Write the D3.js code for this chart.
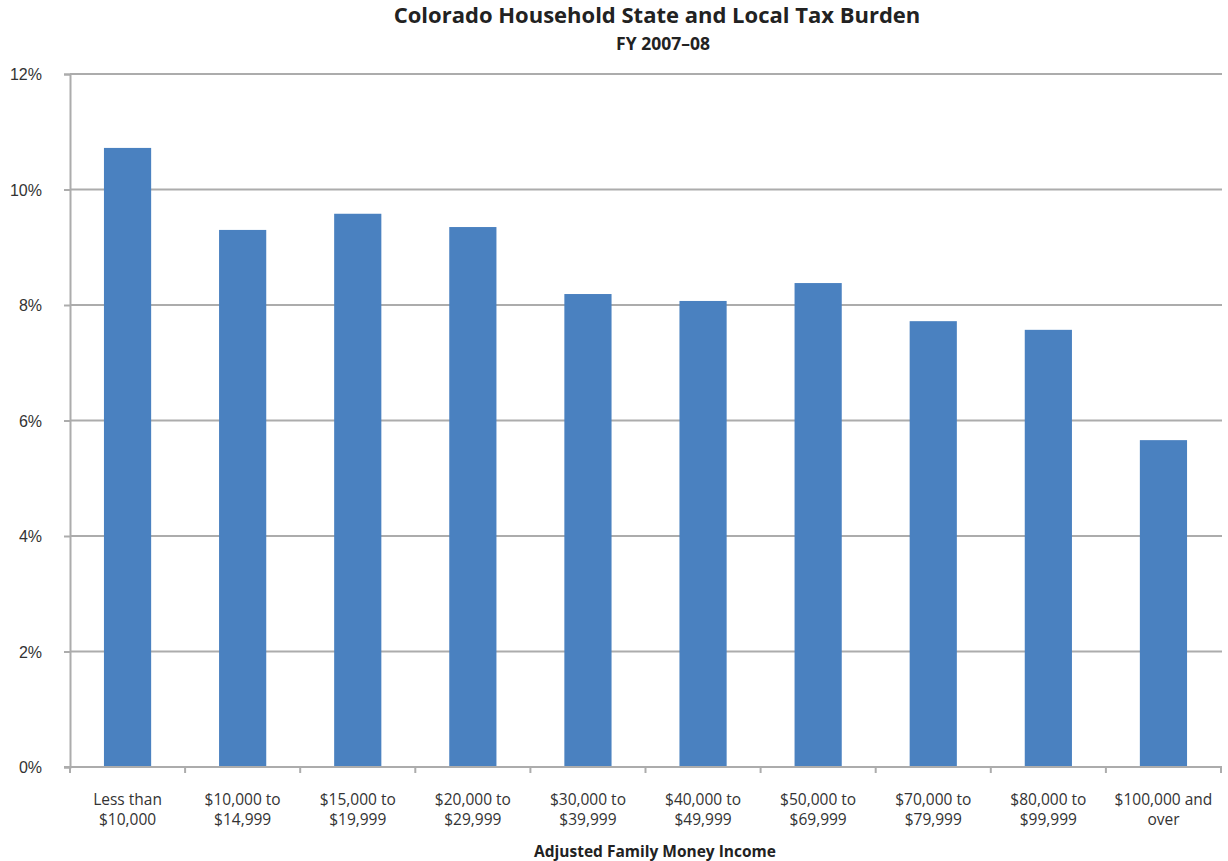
<!DOCTYPE html>
<html>
<head>
<meta charset="utf-8">
<script src="https://cdn.jsdelivr.net/npm/d3@7"></script>
<style>
  body { margin: 0; background: #fff; }
  svg { font-family: "Open Sans", "Noto Sans", sans-serif; }
</style>
</head>
<body>
<div id="bar-chart"></div>
<script>
// chart data
const categories = [
    ["Less than", "$10,000"],
    ["$10,000 to", "$14,999"],
    ["$15,000 to", "$19,999"],
    ["$20,000 to", "$29,999"],
    ["$30,000 to", "$39,999"],
    ["$40,000 to", "$49,999"],
    ["$50,000 to", "$69,999"],
    ["$70,000 to", "$79,999"],
    ["$80,000 to", "$99,999"],
    ["$100,000 and", "over"]
];
const burden = [10.72, 9.30, 9.58, 9.35, 8.19, 8.07, 8.38, 7.72, 7.57, 5.66];
const yTicks = [0, 2, 4, 6, 8, 10, 12];

(function() {
    var width = 1228;
    var height = 861;
    const m = {top: 74, right: 7, bottom: 94, left: 70};
    const gridColor = '#acacac';

    var svg = d3.select("#bar-chart")
    .append("svg")
    .attr("width", width)
    .attr("height", height);

    const plotW = width - m.left - m.right;
    const plotH = height - m.top - m.bottom;

    const g = svg.append('g')
    .attr('transform', `translate(${m.left}, ${m.top})`);

    const keys = categories.map(c => c.join(' '));

    const xScale = d3.scaleBand()
    .range([0, plotW])
    .domain(keys)
    .paddingInner(0.59)
    .paddingOuter(0.295);

    const xCat = d3.scaleBand()
    .range([0, plotW])
    .domain(keys);

    const yScale = d3.scaleLinear()
    .range([plotH, 0])
    .domain([0, 12]);

    // gridlines
    g.append('g')
    .selectAll('line')
    .data(yTicks.filter(t => t > 0))
    .enter()
    .append('line')
    .attr('x1', 0)
    .attr('x2', plotW + 1)
    .attr('y1', d => yScale(d))
    .attr('y2', d => yScale(d))
    .attr('stroke', gridColor)
    .attr('stroke-width', 2);

    // bars
    g.selectAll('.bar')
    .data(burden)
    .enter()
    .append('rect')
    .attr('class', 'bar')
    .attr('x', (d, i) => xScale(keys[i]))
    .attr('y', d => yScale(d))
    .attr('width', xScale.bandwidth())
    .attr('height', d => plotH - yScale(d) + 1)
    .attr('fill', '#4a81c0');

    // y axis
    const yAxis = g.append('g')
    .call(d3.axisLeft(yScale)
        .tickValues(yTicks)
        .tickSize(6)
        .tickPadding(22)
        .tickFormat(d => d + '%'));
    yAxis.select('.domain').attr('stroke', gridColor).attr('stroke-width', 2);
    yAxis.selectAll('.tick line').attr('stroke', gridColor).attr('stroke-width', 2);
    yAxis.selectAll('.tick text')
    .attr('font-size', 16)
    .attr('fill', '#333')
    .attr('dy', '0.35em');

    // x axis baseline
    g.append('line')
    .attr('x1', -6)
    .attr('x2', plotW + 1)
    .attr('y1', plotH)
    .attr('y2', plotH)
    .attr('stroke', gridColor)
    .attr('stroke-width', 2);

    // x ticks at category boundaries
    const bounds = keys.map(k => xCat(k)).concat([plotW]);
    g.append('g')
    .selectAll('line')
    .data(bounds)
    .enter()
    .append('line')
    .attr('x1', d => d)
    .attr('x2', d => d)
    .attr('y1', plotH)
    .attr('y2', plotH + 6)
    .attr('stroke', gridColor)
    .attr('stroke-width', 2);

    // category labels
    const labels = g.append('g')
    .selectAll('text')
    .data(categories)
    .enter()
    .append('text')
    .attr('text-anchor', 'middle')
    .attr('font-size', 15.5)
    .attr('fill', '#333')
    .attr('x', (d, i) => xCat(keys[i]) + xCat.bandwidth() / 2)
    .attr('y', plotH + 38);
    labels.selectAll('tspan')
    .data(d => d)
    .enter()
    .append('tspan')
    .attr('x', function() { return d3.select(this.parentNode).attr('x'); })
    .attr('dy', (d, i) => i === 0 ? 0 : 20)
    .text(d => d);

    // titles
    svg.append('text')
    .attr('x', 657)
    .attr('y', 23)
    .attr('text-anchor', 'middle')
    .attr('font-size', 22)
    .attr('font-weight', 'bold')
    .attr('fill', '#222')
    .text('Colorado Household State and Local Tax Burden');

    svg.append('text')
    .attr('x', 663)
    .attr('y', 50)
    .attr('text-anchor', 'middle')
    .attr('font-size', 17.5)
    .attr('font-weight', 'bold')
    .attr('fill', '#222')
    .text('FY 2007–08');

    svg.append('text')
    .attr('x', 655)
    .attr('y', 857)
    .attr('text-anchor', 'middle')
    .attr('font-size', 15.5)
    .attr('font-weight', 'bold')
    .attr('fill', '#222')
    .text('Adjusted Family Money Income');
})();
</script>
</body>
</html>
